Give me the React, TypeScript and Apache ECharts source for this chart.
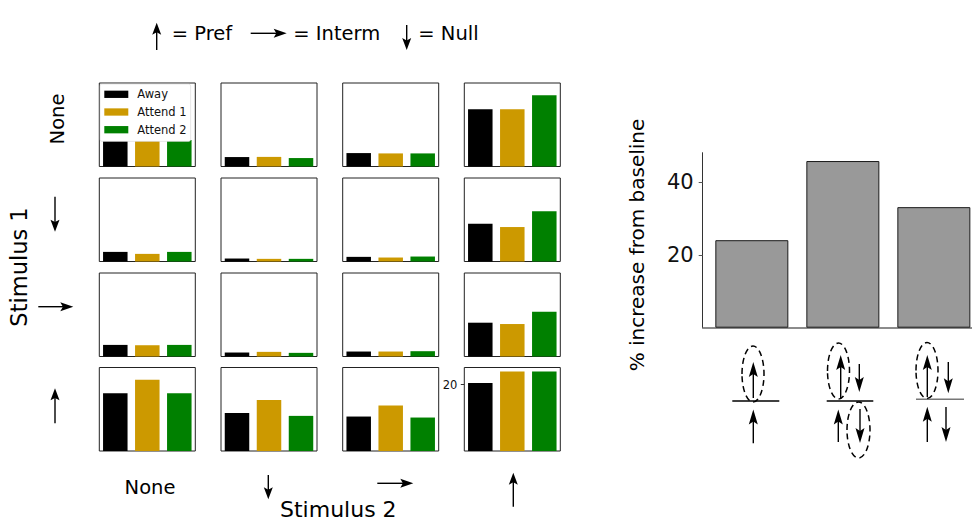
import React, { useEffect, useRef } from "react";
import * as echarts from "echarts";

// Stimulus conditions: rows = stimulus 1, columns = stimulus 2
const stimulus1 = ["None", "Null", "Interm", "Pref"];
const stimulus2 = ["None", "Null", "Interm", "Pref"];
const attentionConditions = ["Away", "Attend 1", "Attend 2"];

// Mean responses per condition (rows: stimulus 1, columns: stimulus 2)
const awayValues = [
  [8.0, 2.85, 4.05, 17.3],
  [2.9, 0.9, 1.4, 11.4],
  [3.5, 1.2, 1.5, 10.2],
  [17.4, 11.5, 10.4, 20.5],
];
const attend1Values = [
  [8.0, 2.9, 3.95, 17.3],
  [2.3, 0.8, 1.2, 10.4],
  [3.4, 1.4, 1.5, 9.8],
  [21.5, 15.4, 13.7, 24.0],
];
const attend2Values = [
  [8.0, 2.55, 3.95, 21.5],
  [2.9, 0.8, 1.5, 15.2],
  [3.5, 1.1, 1.6, 13.5],
  [17.4, 10.6, 10.1, 24.0],
];

// Attentional gain summary
const gainConditions = ["Pref / Pref", "Pref+Null / Pref+Null", "Pref+Null / Pref, Null"];
const gainValues = [24.1, 45.9, 33.2];

const attentionColors = ["#000000", "#cc9900", "#008000"];
const FONT = "DejaVu Sans";

const PANEL_LEFTS = [99.3, 221, 342.7, 464.3];
const PANEL_TOPS = [83, 178, 273, 367.5];
const PANEL_W = 96;
const PANEL_H = 83.5;

type Pt = [number, number];

// Arrow glyph: thin shaft plus a filled, slightly notched head
function arrow(x1: number, y1: number, x2: number, y2: number, headLen = 12, headHalf = 4.5, width = 1.4) {
  const dx = x2 - x1;
  const dy = y2 - y1;
  const len = Math.hypot(dx, dy);
  const ux = dx / len;
  const uy = dy / len;
  const nx = -uy;
  const ny = ux;
  const bx = x2 - ux * headLen;
  const by = y2 - uy * headLen;
  const pts: Pt[] = [
    [x2, y2],
    [bx + nx * headHalf, by + ny * headHalf],
    [x2 - ux * headLen * 0.8, y2 - uy * headLen * 0.8],
    [bx - nx * headHalf, by - ny * headHalf],
  ];
  return [
    {
      type: "line",
      shape: { x1, y1, x2: x2 - ux * headLen * 0.7, y2: y2 - uy * headLen * 0.7 },
      style: { stroke: "#000", lineWidth: width },
    },
    { type: "polygon", shape: { points: pts }, style: { fill: "#000" } },
  ];
}

function hline(x1: number, x2: number, y: number, color = "#000") {
  return { type: "line", shape: { x1, y1: y, x2, y2: y }, style: { stroke: color, lineWidth: 1.4 } };
}

function dashedEllipse(cx: number, cy: number, rx: number, ry: number) {
  return {
    type: "ellipse",
    shape: { cx, cy, rx, ry },
    style: { fill: "none", stroke: "#000", lineWidth: 1.5, lineDash: [6, 4] },
  };
}

function label(text: string, x: number, y: number, fontSize: number, rotation = 0, align = "center") {
  return {
    type: "text",
    x,
    y,
    rotation,
    style: { text, fontSize, fontFamily: FONT, fill: "#000", align, verticalAlign: "middle" },
  };
}

function buildOption() {
  const all = [...awayValues.flat(), ...attend1Values.flat(), ...attend2Values.flat()];
  const panelMax = Math.max(...all) * 1.05;
  const gainMax = Math.max(...gainValues) * 1.05;

  const grid: any[] = [];
  const xAxis: any[] = [];
  const yAxis: any[] = [];
  const series: any[] = [];
  const valueSets = [awayValues, attend1Values, attend2Values];

  stimulus1.forEach((_, r) => {
    stimulus2.forEach((__, c) => {
      const idx = r * 4 + c;
      const showTick = r === 3 && c === 3;
      grid.push({
        left: PANEL_LEFTS[c],
        top: PANEL_TOPS[r],
        width: PANEL_W,
        height: PANEL_H,
        show: true,
        borderColor: "#222",
        borderWidth: 1,
        backgroundColor: "#fff",
        containLabel: false,
        outerBoundsMode: "none",
      });
      xAxis.push({
        type: "category",
        gridIndex: idx,
        data: attentionConditions,
        show: false,
        boundaryGap: true,
      });
      yAxis.push({
        type: "value",
        gridIndex: idx,
        min: 0,
        max: panelMax,
        show: showTick,
        splitLine: { show: false },
        axisLine: { show: false, onZero: false },
        axisTick: {
          show: showTick,
          length: 3.5,
          customValues: [20],
          lineStyle: { color: "#333", width: 1 },
        },
        axisLabel: {
          show: showTick,
          customValues: [20],
          fontSize: 11.5,
          fontFamily: FONT,
          color: "#111",
          margin: 7,
        },
      });
      attentionConditions.forEach((name, k) => {
        const data = attentionConditions.map((___, j) => (j === k ? valueSets[k][r][c] : "-"));
        series.push({
          type: "bar",
          name,
          xAxisIndex: idx,
          yAxisIndex: idx,
          data,
          barWidth: 24.5,
          barGap: "-100%",
          itemStyle: { color: attentionColors[k] },
          emphasis: { disabled: true },
        });
      });
    });
  });

  // Summary bar chart on the right
  const gi = grid.length;
  grid.push({
    left: 702.7,
    top: 152.7,
    width: 280.3,
    height: 175,
    containLabel: false,
    outerBoundsMode: "none",
  });
  xAxis.push({
    type: "value",
    gridIndex: gi,
    min: -0.54,
    max: 2.54,
    axisLine: { show: true, onZero: false, lineStyle: { color: "#666", width: 1.6 } },
    axisTick: { show: false },
    axisLabel: { show: false },
    splitLine: { show: false },
  });
  yAxis.push({
    type: "value",
    gridIndex: gi,
    min: 0,
    max: gainMax,
    axisLine: { show: true, onZero: false, lineStyle: { color: "#333", width: 1 } },
    axisTick: { show: true, length: 4, customValues: [20, 40], lineStyle: { color: "#555" } },
    axisLabel: {
      customValues: [20, 40],
      fontSize: 21,
      fontFamily: FONT,
      color: "#111",
      margin: 9,
    },
    splitLine: { show: false },
  });
  series.push({
    type: "bar",
    name: "Gain",
    xAxisIndex: gi,
    yAxisIndex: gi,
    data: gainValues.map((v, i) => ({ name: gainConditions[i], value: [i, v] })),
    barWidth: 73,
    itemStyle: { color: "#999999", borderColor: "#1a1a1a", borderWidth: 1 },
    emphasis: { disabled: true },
  });

  const graphic: any[] = [
    // key
    ...arrow(156.7, 50, 156.7, 22.7),
    label("= Pref", 171.7, 33, 19.5, 0, "left"),
    ...arrow(250.7, 33.3, 286.7, 33.3, 13, 4.5),
    label("= Interm", 293.3, 33, 19.5, 0, "left"),
    ...arrow(406.7, 25, 406.7, 50),
    label("= Null", 418.3, 33, 19.5, 0, "left"),

    // stimulus 1 row labels
    label("None", 57.5, 119, 19.5, Math.PI / 2),
    label("Stimulus 1", 19, 267, 22.5, Math.PI / 2),
    ...arrow(55, 196.7, 55, 231.7),
    ...arrow(38.3, 306.7, 73.3, 306.7, 13, 4.5),
    ...arrow(55, 423.3, 55, 388.3),

    // stimulus 2 column labels
    label("None", 150, 487.3, 19.5),
    ...arrow(268.3, 475, 268.3, 499.3),
    ...arrow(377.3, 483.3, 413.3, 483.3, 13, 4.5),
    ...arrow(513.3, 506.7, 513.3, 472.7),
    label("Stimulus 2", 338.3, 509.5, 22),

    // y-axis title of the summary chart
    label("% increase from baseline", 637, 245, 20, Math.PI / 2),

    // condition glyphs under the summary bars
    hline(732.3, 779.3, 401),
    ...arrow(753.3, 398, 753.3, 362, 15, 4.5),
    ...arrow(753.3, 443.3, 753.3, 409.5, 15, 4.5),
    dashedEllipse(753, 374, 11, 28),

    hline(826.7, 873.3, 401),
    ...arrow(840.7, 398, 840.7, 355, 15, 4.5),
    ...arrow(859.3, 364, 859.3, 392, 15, 4.5),
    ...arrow(838.3, 442, 838.3, 409.5, 15, 4.5),
    ...arrow(860, 409, 860, 443, 15, 4.5),
    dashedEllipse(838.5, 371, 11, 28),
    dashedEllipse(858.5, 430, 11.5, 28),

    hline(916, 964, 399.3, "#777"),
    ...arrow(927.3, 397, 927.3, 355, 15, 4.5),
    ...arrow(948.3, 362, 948.3, 393.3, 15, 4.5),
    ...arrow(927.3, 442, 927.3, 406.7, 15, 4.5),
    ...arrow(946, 407, 946, 442, 15, 4.5),
    dashedEllipse(927, 370.5, 11, 28),
  ];

  return {
    animation: false,
    backgroundColor: "#fff",
    textStyle: { fontFamily: FONT },
    legend: {
      data: attentionConditions,
      orient: "vertical",
      left: 100,
      top: 84,
      itemWidth: 24,
      itemHeight: 7.3,
      itemGap: 4.7,
      icon: "rect",
      selectedMode: false,
      backgroundColor: "#fff",
      borderColor: "rgba(204,204,204,0.6)",
      borderWidth: 0.8,
      borderRadius: 2,
      padding: [3.8, 4, 5.2, 4.3],
      textStyle: { fontSize: 11.5, lineHeight: 13, fontFamily: FONT, color: "#111", padding: [0, 0, 0, 4] },
      z: 10,
    },
    grid,
    xAxis,
    yAxis,
    series,
    graphic,
  };
}

export default function App() {
  const ref = useRef<HTMLDivElement>(null);
  useEffect(() => {
    if (!ref.current) return;
    const chart = echarts.init(ref.current, null, { renderer: "svg" });
    chart.setOption(buildOption() as any);
    return () => chart.dispose();
  }, []);
  return (
    <div
      ref={ref}
      style={{ position: "absolute", left: 0, top: 0, width: 972, height: 523, background: "#fff" }}
    />
  );
}
